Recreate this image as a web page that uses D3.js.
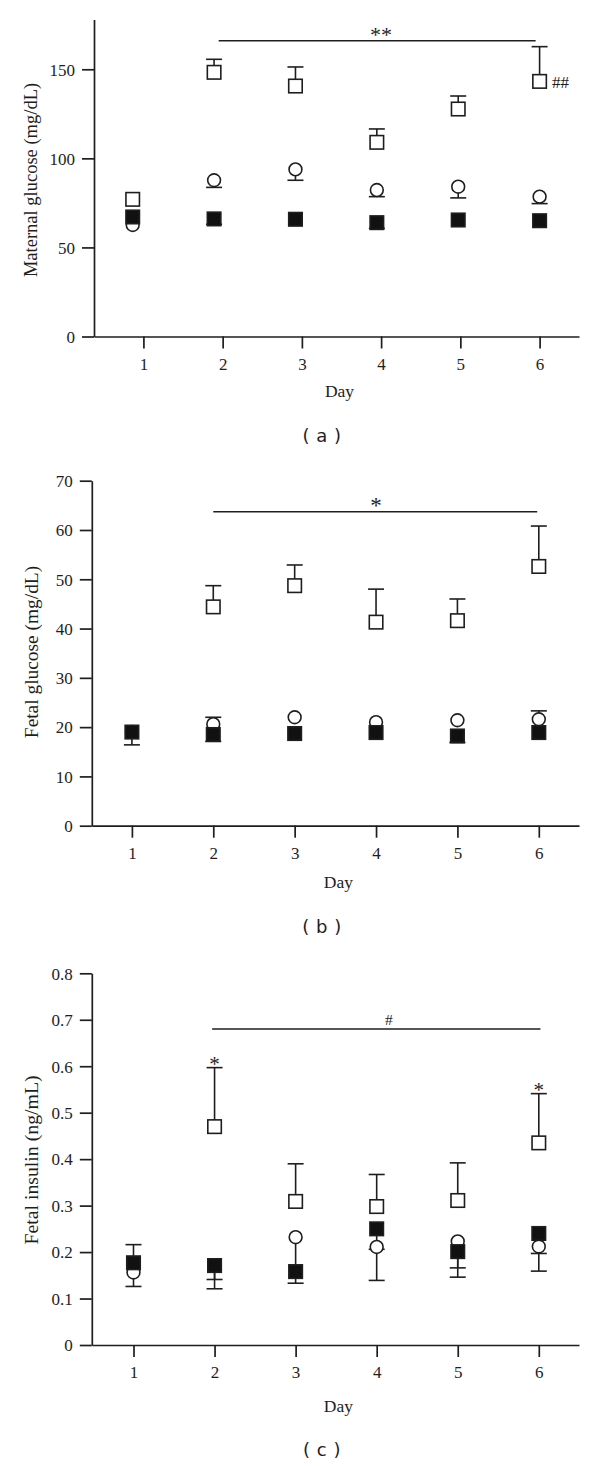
<!DOCTYPE html>
<html>
<head>
<meta charset="utf-8">
<script src="https://cdn.jsdelivr.net/npm/d3@7"></script>
<style>
  html, body { margin: 0; padding: 0; background: #fff; }
  svg { display: block; }
</style>
</head>
<body>
<svg id="chart" width="600" height="1466"></svg>
<script>
// ---------- DATA ----------
const days = [1, 2, 3, 4, 5, 6];

// (a) Maternal glucose (mg/dL)
const maternalTicks = [0, 50, 100, 150];
const maternalOpenSq = [77.0, 148.3, 140.6, 109.0, 127.7, 143.2];
const maternalOpenSqErr = [null, 155.6, 151.3, 116.5, 135.0, 162.7];
const maternalCircle = [62.6, 87.7, 93.8, 82.2, 84.1, 78.5];
const maternalCircleErr = [null, 83.7, 87.7, 78.5, 77.8, 74.6];
const maternalFilledSq = [67.1, 66.0, 65.8, 63.9, 65.4, 65.0];
const maternalFilledSqErr = [null, 63.0, null, 60.7, null, null];

// (b) Fetal glucose (mg/dL)
const fetalGluTicks = [0, 10, 20, 30, 40, 50, 60, 70];
const fetalGluOpenSq = [null, 44.4, 48.7, 41.3, 41.6, 52.6];
const fetalGluOpenSqErr = [null, 48.7, 52.9, 48.0, 46.0, 60.8];
const fetalGluCircle = [19.0, 20.6, 22.0, 21.0, 21.4, 21.6];
const fetalGluCircleErr = [null, 22.0, null, null, null, 23.3];
const fetalGluFilledSq = [19.0, 18.5, 18.7, 18.9, 18.2, 18.9];
const fetalGluFilledSqErr = [16.4, 17.1, null, null, 16.9, null];

// (c) Fetal insulin (ng/mL)
const insulinTicks = [0, 0.1, 0.2, 0.3, 0.4, 0.5, 0.6, 0.7, 0.8];
const insulinOpenSq = [null, 0.470, 0.309, 0.298, 0.311, 0.435];
const insulinOpenSqErr = [null, 0.597, 0.390, 0.367, 0.392, 0.541];
const insulinCircle = [0.156, 0.172, 0.232, 0.211, 0.223, 0.212];
const insulinCircleErr = [0.126, 0.121, 0.133, 0.139, 0.146, 0.159];
const insulinFilledSq = [0.177, 0.171, 0.158, 0.250, 0.201, 0.240];
const insulinFilledSqErr = [0.216, 0.141, null, 0.206, 0.166, 0.197];

// significance annotations
const sigA = { from: 1.95, to: 5.95, value: 166, label: "**" };
const sigB = { from: 2, to: 5.98, value: 63.7, label: "*" };
const sigC = { from: 1.97, to: 6.02, value: 0.680, label: "#", labelDay: 4.15 };
const hashA = { day: 6, label: "##" };
const starsC = [2, 6];

// ---------- DRAWING ----------
const svg = d3.select("#chart");
svg.append("rect").attr("width", 600).attr("height", 1466).attr("fill", "#fff");

const INK = "#1e1e1e";
const SERIF = "'Liberation Serif', 'Times New Roman', serif";
const SANS = "'DejaVu Sans', Verdana, sans-serif";

function drawPanel(cfg) {
  const g = svg.append("g");
  const y = d3.scaleLinear().domain([0, cfg.yMax]).range([cfg.xAxisY, cfg.yTopPx]);
  const xTick = d3.scaleLinear().domain([1, 6]).range(cfg.tickRange);
  const xMark = d3.scaleLinear().domain([1, 6]).range(cfg.markRange);
  const xAxisScale = d3.scaleLinear()
    .domain([xTick.invert(cfg.yAxisX), xTick.invert(cfg.xEnd)])
    .range([cfg.yAxisX, cfg.xEnd]);

  const yAxis = d3.axisLeft(y).tickValues(cfg.yTicks).tickSize(12).tickSizeOuter(0)
    .tickPadding(7).tickFormat(d => String(d));
  const gy = g.append("g").attr("transform", `translate(${cfg.yAxisX},0)`).call(yAxis);
  const xAxis = d3.axisBottom(xAxisScale).tickValues(days).tickSize(12).tickSizeOuter(0)
    .tickPadding(9).tickFormat(d => String(d));
  const gx = g.append("g").attr("transform", `translate(0,${cfg.xAxisY})`).call(xAxis);
  [gx, gy].forEach(a => {
    a.selectAll("path.domain").attr("stroke", INK).attr("stroke-width", 1.7);
    a.selectAll(".tick line").attr("stroke", INK).attr("stroke-width", 1.7);
    a.selectAll(".tick text").attr("fill", INK).attr("font-family", SERIF).attr("font-size", 17);
  });
  gy.selectAll(".tick text").attr("dy", "0.34em");

  g.append("text").attr("x", (cfg.yAxisX + cfg.xEnd) / 2 + 3).attr("y", cfg.xAxisY + cfg.dayOffset)
    .attr("text-anchor", "middle").attr("font-family", SERIF).attr("font-size", 17.5)
    .attr("fill", INK).text("Day");
  g.append("text")
    .attr("transform", `translate(31,${cfg.yTitleY}) rotate(-90)`)
    .attr("text-anchor", "middle").attr("dy", "0.35em")
    .attr("font-family", SERIF).attr("font-size", cfg.yTitleSize).attr("fill", INK)
    .text(cfg.yTitle);

  g.append("text").attr("x", 322).attr("y", cfg.xAxisY + cfg.capOffset)
    .attr("text-anchor", "middle").attr("font-family", SANS).attr("font-size", 18)
    .attr("letter-spacing", 0.5).attr("fill", INK).text(cfg.caption);

  const s = cfg.sig;
  g.append("line").attr("x1", xTick(s.from)).attr("x2", xTick(s.to))
    .attr("y1", y(s.value)).attr("y2", y(s.value))
    .attr("stroke", INK).attr("stroke-width", 1.6);
  g.append("text").attr("x", xTick(s.labelDay || 4)).attr("y", y(s.value) + cfg.sigDy)
    .attr("text-anchor", "middle").attr("font-family", SERIF)
    .attr("font-size", cfg.sigSize)
    .attr("fill", INK).text(s.label);

  const capW = 16;
  function errBars(vals, errs) {
    days.forEach((d, i) => {
      if (vals[i] == null || errs[i] == null) return;
      const cx = xMark(d);
      g.append("line").attr("x1", cx).attr("x2", cx)
        .attr("y1", y(vals[i])).attr("y2", y(errs[i]))
        .attr("stroke", INK).attr("stroke-width", 1.6);
      g.append("line").attr("x1", cx - capW / 2).attr("x2", cx + capW / 2)
        .attr("y1", y(errs[i])).attr("y2", y(errs[i]))
        .attr("stroke", INK).attr("stroke-width", 1.6);
    });
  }
  errBars(cfg.openSq, cfg.openSqErr);
  errBars(cfg.circle, cfg.circleErr);
  errBars(cfg.filledSq, cfg.filledSqErr);

  const side = 13.5;
  function squares(vals, fill) {
    g.append("g").selectAll("rect").data(days.filter((d, i) => vals[i] != null))
      .join("rect")
      .attr("x", d => xMark(d) - side / 2)
      .attr("y", d => y(vals[d - 1]) - side / 2)
      .attr("width", side).attr("height", side)
      .attr("fill", fill).attr("stroke", INK).attr("stroke-width", 1.6);
  }
  function circles(vals) {
    g.append("g").selectAll("circle").data(days.filter((d, i) => vals[i] != null))
      .join("circle")
      .attr("cx", d => xMark(d)).attr("cy", d => y(vals[d - 1])).attr("r", 6.4)
      .attr("fill", "#fff").attr("stroke", INK).attr("stroke-width", 1.6);
  }
  squares(cfg.openSq, "#fff");
  circles(cfg.circle);
  squares(cfg.filledSq, "#111");

  return { g, y, xTick, xMark };
}

const pa = drawPanel({
  yAxisX: 94, xAxisY: 336.5, yTopPx: 19.4, yMax: 178, xEnd: 579,
  tickRange: [143.4, 539.6], markRange: [132.7, 539.6],
  yTicks: maternalTicks, yTitle: "Maternal glucose (mg/dL)", yTitleY: 180, yTitleSize: 18.5,
  dayOffset: 60, capOffset: 105, caption: "( a )",
  sig: sigA, sigDy: 1.5, sigSize: 22,
  openSq: maternalOpenSq, openSqErr: maternalOpenSqErr,
  circle: maternalCircle, circleErr: maternalCircleErr,
  filledSq: maternalFilledSq, filledSqErr: maternalFilledSqErr
});
pa.g.append("text")
  .attr("x", pa.xMark(hashA.day) + 12.5)
  .attr("y", pa.y(maternalOpenSq[hashA.day - 1]) + 7)
  .attr("font-family", SERIF).attr("font-size", 17)
  .attr("fill", INK).text(hashA.label);

drawPanel({
  yAxisX: 91.8, xAxisY: 825.7, yTopPx: 480.7, yMax: 70, xEnd: 579,
  tickRange: [131.9, 538.8], markRange: [131.9, 538.8],
  yTicks: fetalGluTicks, yTitle: "Fetal glucose (mg/dL)", yTitleY: 652, yTitleSize: 19.4,
  dayOffset: 62, capOffset: 107, caption: "( b )",
  sig: sigB, sigDy: 1.5, sigSize: 23,
  openSq: fetalGluOpenSq, openSqErr: fetalGluOpenSqErr,
  circle: fetalGluCircle, circleErr: fetalGluCircleErr,
  filledSq: fetalGluFilledSq, filledSqErr: fetalGluFilledSqErr
});

const pc = drawPanel({
  yAxisX: 91.8, xAxisY: 1345, yTopPx: 973.3, yMax: 0.8, xEnd: 579,
  tickRange: [133.5, 538.8], markRange: [133.5, 538.8],
  yTicks: insulinTicks, yTitle: "Fetal insulin (ng/mL)", yTitleY: 1160, yTitleSize: 19.8,
  dayOffset: 67, capOffset: 111, caption: "( c )",
  sig: sigC, sigDy: -4, sigSize: 15.5,
  openSq: insulinOpenSq, openSqErr: insulinOpenSqErr,
  circle: insulinCircle, circleErr: insulinCircleErr,
  filledSq: insulinFilledSq, filledSqErr: insulinFilledSqErr
});
starsC.forEach(d => {
  pc.g.append("text")
    .attr("x", pc.xMark(d)).attr("y", pc.y(insulinOpenSqErr[d - 1]) + 3.5)
    .attr("text-anchor", "middle").attr("font-family", SERIF).attr("font-size", 21)
    .attr("fill", INK).text("*");
});
</script>
</body>
</html>
